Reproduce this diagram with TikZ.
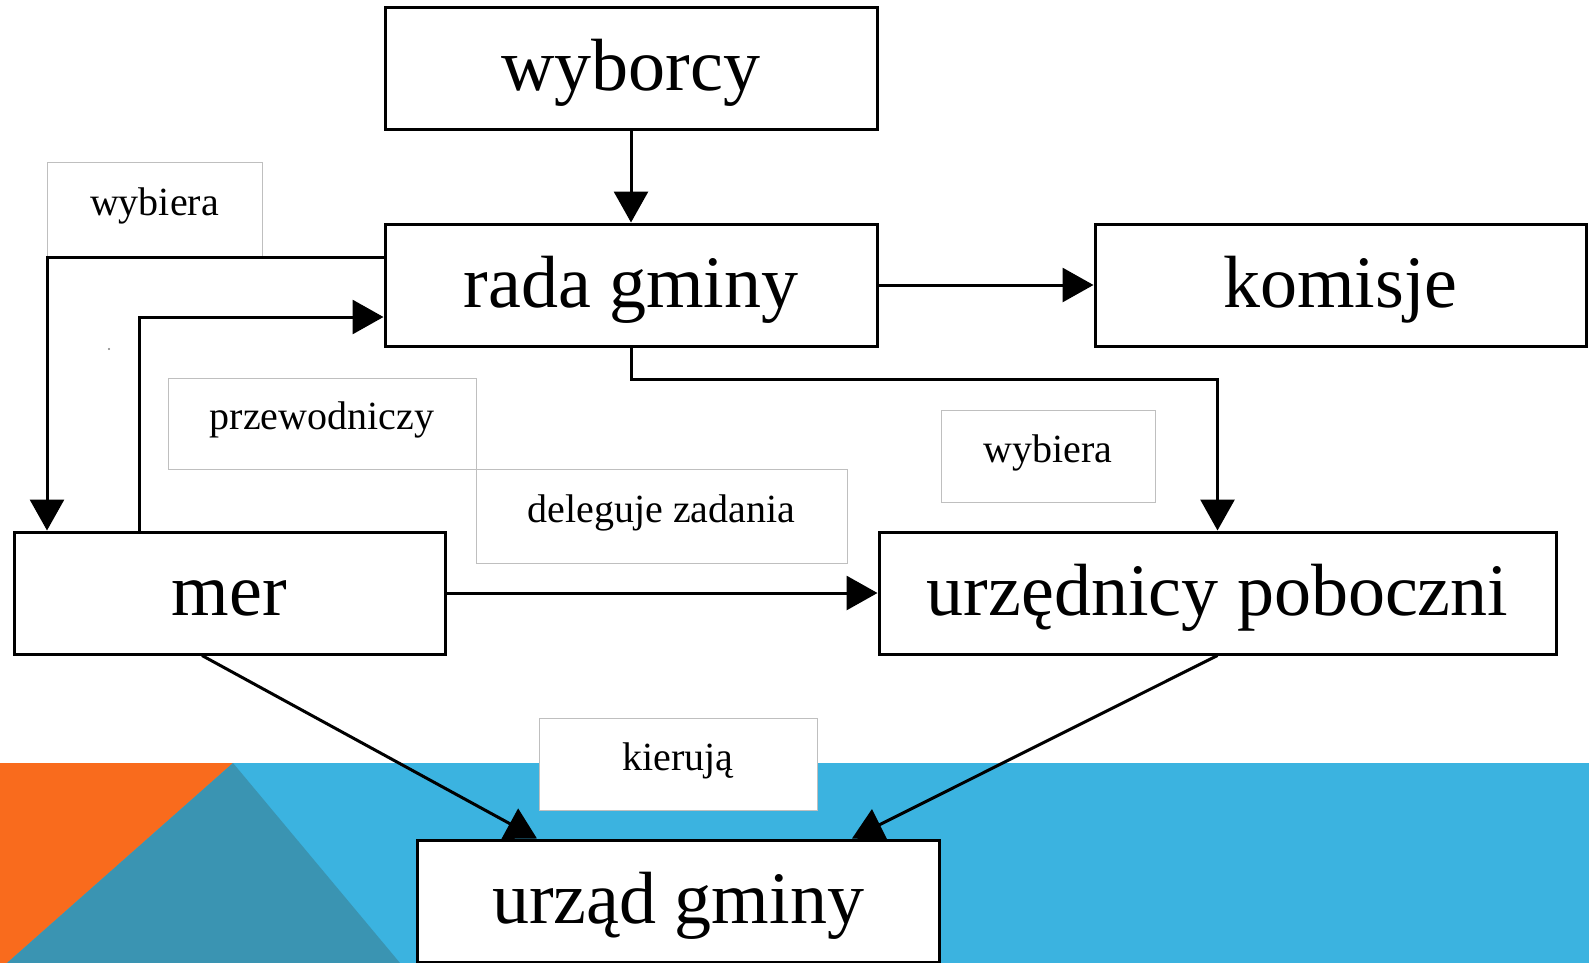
\documentclass[tikz,border=0pt]{standalone}
\usepackage{fontspec}
\setmainfont{Liberation Serif}
\usetikzlibrary{arrows.meta}
\definecolor{bandblue}{HTML}{3BB3E0}
\definecolor{bandteal}{HTML}{3A94B2}
\definecolor{bandorange}{HTML}{F96B1D}
\definecolor{lblgray}{HTML}{BFBFBF}
\tikzset{
  bigbox/.style={draw=black, line width=3pt, fill=white, minimum height=122pt, inner sep=0pt,
    font=\fontsize{74}{80}\selectfont, text height=62.5pt, text depth=18.5pt},
  lblbox/.style={draw=lblgray, line width=1pt, fill=white, inner sep=0pt,
    font=\fontsize{40}{46}\selectfont, text height=22pt, text depth=10pt},
  conn/.style={line width=3pt, -{Triangle[length=31pt,width=34pt]}}
}
\begin{document}
\begin{tikzpicture}[x=1pt,y=-1pt]
\useasboundingbox (0,0) rectangle (1589,963);
% background
\fill[white] (0,0) rectangle (1589,963);
\fill[bandblue] (0,763) rectangle (1589,963);
\fill[bandorange] (0,763) -- (233,763) -- (7,963) -- (0,963) -- cycle;
\fill[bandteal] (233,763) -- (400,963) -- (7,963) -- cycle;
\fill[gray] (109,349) circle (1.2pt);

% label boxes
\node[lblbox, minimum width=215pt, minimum height=95pt] (lwyb1) at (154.5,209.5) {wybiera};
\node[lblbox, minimum width=308pt, minimum height=91pt] (lprz) at (322,423.5) {przewodniczy};
\node[lblbox, minimum width=371pt, minimum height=94pt] (ldel) at (661.5,516) {deleguje zadania};
\node[lblbox, minimum width=214pt, minimum height=92pt] (lwyb2) at (1048,456) {wybiera};
\node[lblbox, minimum width=278pt, minimum height=92pt] (lkier) at (678,764) {kierują};

% main boxes
\node[bigbox, minimum width=492pt] (wyborcy) at (631,69) {wyborcy};
\node[bigbox, minimum width=492pt] (rada) at (631,285) {rada gminy};
\node[bigbox, minimum width=491pt] (komisje) at (1340.5,285) {komisje};
\node[bigbox, minimum width=431pt] (mer) at (229.5,593) {mer};
\node[bigbox, minimum width=677pt] (urz) at (1217.5,593) {urzędnicy poboczni};
\node[bigbox, minimum width=522pt] (urzad) at (678,901) {urząd gminy};

% connectors
\draw[conn] (wyborcy.south) -- (rada.north);
\draw[conn] (rada.east) -- (komisje.west);
\draw[conn] (rada.south) -- ++(0,32) -| (urz.north);
\draw[conn] ([yshift=28pt]rada.west) -| ([xshift=-182.5pt]mer.north);
\draw[conn] ([xshift=-90.5pt]mer.north) |- ([yshift=-32pt]rada.west);
\draw[conn] (mer.east) -- (urz.west);
\draw[conn] ([xshift=-27.5pt]mer.south) -- ([xshift=-141pt]urzad.north);
\draw[conn] (urz.south) -- ([xshift=174pt]urzad.north);
\end{tikzpicture}
\end{document}
